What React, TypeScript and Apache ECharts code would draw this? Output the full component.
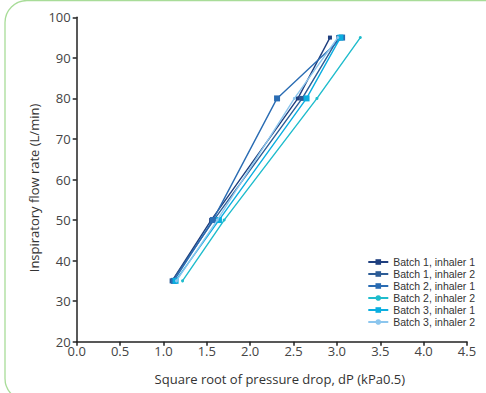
import React, { useEffect, useRef } from "react";
import * as echarts from "echarts";

const flowRates = [35, 50, 80, 95];
const seriesNames = [
  "Batch 1, inhaler 1",
  "Batch 1, inhaler 2",
  "Batch 2, inhaler 1",
  "Batch 2, inhaler 2",
  "Batch 3, inhaler 1",
  "Batch 3, inhaler 2",
];
const b1i1 = [1.1, 1.55, 2.55, 2.92];
const b1i2 = [1.1, 1.58, 2.6, 3.02];
const b2i1 = [1.12, 1.57, 2.31, 3.06];
const b2i2 = [1.22, 1.7, 2.77, 3.27];
const b3i1 = [1.14, 1.64, 2.65, 3.04];
const b3i2 = [1.15, 1.62, 2.51, 3.01];
const seriesValues = [b1i1, b1i2, b2i1, b2i2, b3i1, b3i2];
const colors = ["#1f3f7f", "#2d5c96", "#2a6cb3", "#1fbccc", "#0aaee0", "#8cc6ee"];
const symbols = ["rect", "rect", "rect", "circle", "rect", "circle"];
const symbolSizes = [4, 5, 6, 3, 6, 3];
const yAxisTitle = "Inspiratory flow rate (L/min)";
const xAxisTitle = "Square root of pressure drop, dP (kPa0.5)";

export default function App() {
  const ref = useRef<HTMLDivElement>(null);
  useEffect(() => {
    if (!ref.current) return;
    const chart = echarts.init(ref.current, null, { renderer: "svg" });
    const font = "Open Sans";
    chart.setOption({
      animation: false,
      textStyle: { fontFamily: font },
      graphic: [
        {
          type: "rect",
          shape: { x: 5, y: 0.5, width: 540, height: 400, r: 22 },
          style: { fill: "none", stroke: "#a8dc98", lineWidth: 1.3 },
          silent: true,
        },
        {
          type: "text",
          x: 34,
          y: 188,
          rotation: Math.PI / 2,
          style: {
            text: yAxisTitle,
            fontFamily: font,
            fontSize: 13,
            fill: "#333",
            align: "center",
            verticalAlign: "middle",
          },
          silent: true,
        },
      ],
      grid: { left: 76.7, right: 19, top: 17.3, bottom: 51.3, containLabel: false },
      legend: {
        orient: "vertical",
        right: 11,
        top: 256,
        padding: 0,
        itemWidth: 20,
        itemHeight: 7,
        itemGap: 0,
        textStyle: { fontFamily: "Liberation Sans", fontSize: 10.5, lineHeight: 12, color: "#333" },
        data: seriesNames,
      },
      xAxis: {
        type: "value",
        min: 0,
        max: 4.5,
        interval: 0.5,
        name: xAxisTitle,
        nameLocation: "middle",
        nameGap: 31,
        nameTextStyle: { fontFamily: font, fontSize: 13, color: "#333", padding: [0, 0, 0, 16] },
        axisLine: { lineStyle: { color: "#222", width: 1.5 } },
        axisTick: { show: true, length: 4, lineStyle: { color: "#222", width: 1.5 } },
        axisLabel: {
          fontFamily: font,
          fontSize: 13,
          color: "#444",
          margin: 3,
          formatter: (v: number) => v.toFixed(1),
        },
        splitLine: { show: false },
      },
      yAxis: {
        type: "value",
        min: 20,
        max: 100,
        interval: 10,
        axisLine: { show: true, lineStyle: { color: "#222", width: 1.5 } },
        axisTick: { show: true, length: 4, lineStyle: { color: "#222", width: 1.5 } },
        axisLabel: { fontFamily: font, fontSize: 13, color: "#444", margin: 6 },
        splitLine: { show: false },
      },
      series: seriesNames.map((name, i) => ({
        name,
        type: "line",
        data: seriesValues[i].map((x, j) => [x, flowRates[j]]),
        symbol: symbols[i],
        symbolSize: symbolSizes[i],
        showSymbol: true,
        lineStyle: { color: colors[i], width: 1.4 },
        itemStyle: { color: colors[i] },
        z: 2 + i,
      })),
    });
    return () => chart.dispose();
  }, []);
  return <div ref={ref} style={{ width: 486, height: 393, position: "absolute", left: 0, top: 0 }} />;
}
